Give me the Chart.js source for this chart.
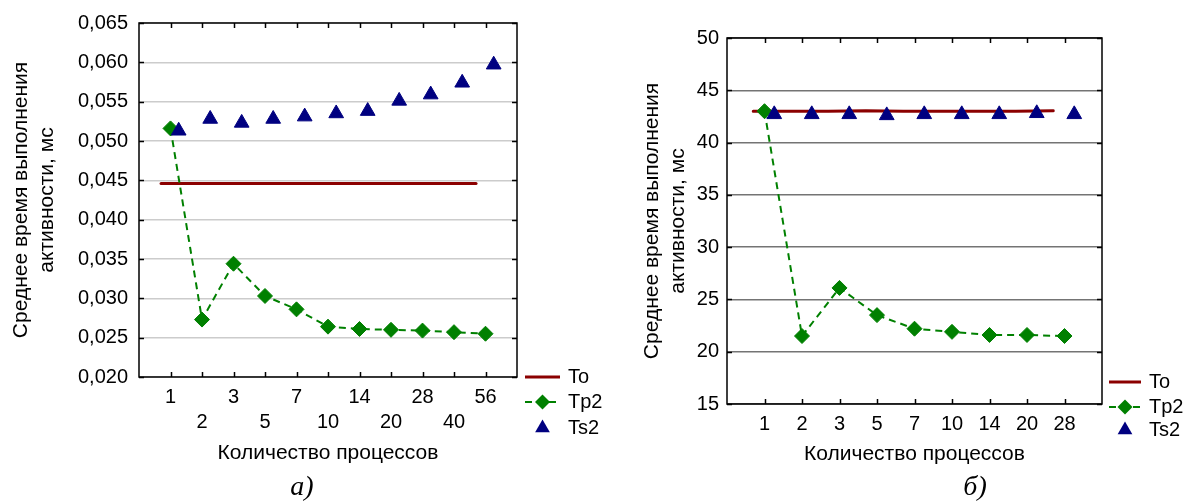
<!DOCTYPE html>
<html lang="ru">
<head>
    <meta charset="UTF-8">
    <title>Среднее время выполнения активности</title>
    <script src="https://cdn.jsdelivr.net/npm/chart.js"></script>
    <style>
        body {
            margin: 0;
            width: 1188px;
            height: 504px;
            position: relative;
            overflow: hidden;
            background: #fff;
        }
        .box {
            position: absolute;
            top: 0;
            height: 504px;
        }
        #boxA { left: 0; width: 620px; }
        #boxB { left: 600px; width: 588px; }
        .caption {
            position: absolute;
            top: 470px;
            width: 60px;
            line-height: 32px;
            text-align: center;
            font-family: "Liberation Serif", "Times New Roman", serif;
            font-style: italic;
            font-size: 28px;
            color: #000;
        }
        #capA { left: 272px; }
        #capB { left: 945px; }
    </style>
</head>
<body>
    <div class="box" id="boxA"><canvas id="chartA" width="620" height="504"></canvas></div>
    <div class="box" id="boxB"><canvas id="chartB" width="588" height="504"></canvas></div>
    <div class="caption" id="capA">а)</div>
    <div class="caption" id="capB">б)</div>
    <script>
        // а) левый график
        const categoriesA = ['1', '2', '3', '5', '7', '10', '14', '20', '28', '40', '56'];
        const toA  = [0.0446, 0.0446, 0.0446, 0.0446, 0.0446, 0.0446, 0.0446, 0.0446, 0.0446, 0.0446, 0.0446];
        const tp2A = [0.0516, 0.0273, 0.0344, 0.0303, 0.0286, 0.0264, 0.0261, 0.0260, 0.0259, 0.0257, 0.0255];
        const ts2A = [0.0513, 0.0528, 0.0523, 0.0528, 0.0531, 0.0535, 0.0538, 0.0551, 0.0559, 0.0574, 0.0597];
        const yTicksA = [0.020, 0.025, 0.030, 0.035, 0.040, 0.045, 0.050, 0.055, 0.060, 0.065];

        // б) правый график
        const categoriesB = ['1', '2', '3', '5', '7', '10', '14', '20', '28'];
        const toB  = [43.0, 43.0, 43.0, 43.05, 43.0, 43.0, 43.0, 43.0, 43.05];
        const tp2B = [43.0, 21.5, 26.1, 23.5, 22.2, 21.9, 21.6, 21.6, 21.5];
        const ts2B = [42.7, 42.7, 42.7, 42.6, 42.7, 42.7, 42.7, 42.8, 42.7];
        const yTicksB = [15, 20, 25, 30, 35, 40, 45, 50];

        const xTitle = 'Количество процессов';
        const yTitle = ['Среднее время выполнения', 'активности, мс'];

        const TO_SHIFT = -0.3;
        const TS_SHIFT = 0.26;

        Chart.defaults.font.family = 'Arial, "Liberation Sans", sans-serif';
        Chart.defaults.color = '#000';

        // рамка, внутренние засечки и легенда
        const framePlugin = {
            id: 'frame',
            afterDraw(chart, args, opts) {
                const ctx = chart.ctx;
                const a = chart.chartArea;
                const sx = chart.scales.x, sy = chart.scales.y;
                ctx.save();
                ctx.strokeStyle = '#000';
                ctx.lineWidth = 1.5;
                ctx.beginPath();
                sx.ticks.forEach(t => {
                    const px = Math.round(sx.getPixelForValue(t.value)) + 0.5;
                    ctx.moveTo(px, a.bottom); ctx.lineTo(px, a.bottom - 5);
                    ctx.moveTo(px, a.top); ctx.lineTo(px, a.top + 5);
                });
                sy.ticks.forEach(t => {
                    const py = Math.round(sy.getPixelForValue(t.value)) + 0.5;
                    ctx.moveTo(a.left, py); ctx.lineTo(a.left + 5, py);
                    ctx.moveTo(a.right, py); ctx.lineTo(a.right - 5, py);
                });
                ctx.stroke();
                ctx.strokeRect(a.left, a.top, a.right - a.left, a.bottom - a.top);

                // легенда
                const ds = chart.data.datasets;
                const x0 = opts.x0, x1 = opts.x1, xm = (x0 + x1) / 2;
                ctx.font = '20px Arial, "Liberation Sans", sans-serif';
                ctx.textBaseline = 'middle';
                ctx.fillStyle = '#000';
                ds.forEach((d, i) => {
                    const y = opts.rows[i];
                    if (d.showLine !== false) {
                        ctx.save();
                        ctx.strokeStyle = d.borderColor;
                        ctx.lineWidth = d.borderWidth;
                        ctx.setLineDash(d.borderDash || []);
                        ctx.beginPath();
                        ctx.moveTo(x0, y); ctx.lineTo(x1, y);
                        ctx.stroke();
                        ctx.restore();
                    }
                    if (d.pointRadius > 0) {
                        const r = d.pointRadius;
                        ctx.fillStyle = d.pointBackgroundColor;
                        ctx.beginPath();
                        if (d.pointStyle === 'rectRot') {
                            ctx.moveTo(xm, y - r); ctx.lineTo(xm + r, y);
                            ctx.lineTo(xm, y + r); ctx.lineTo(xm - r, y);
                        } else {
                            const h = r * Math.sqrt(3) / 2;
                            ctx.moveTo(xm, y - r); ctx.lineTo(xm + h, y + r / 2);
                            ctx.lineTo(xm - h, y + r / 2);
                        }
                        ctx.closePath();
                        ctx.fill();
                    }
                    ctx.fillStyle = '#000';
                    ctx.fillText(d.label, x1 + 8, y);
                });
                ctx.restore();
            }
        };

        function makeChart(id, cfg) {
            return new Chart(document.getElementById(id), {
                type: 'line',
                data: {
                    datasets: [
                        {
                            label: 'To',
                            data: cfg.to.map((v, i) => ({ x: i + 1 + TO_SHIFT, y: v })),
                            borderColor: '#8b0000',
                            borderWidth: 3,
                            borderCapStyle: 'round',
                            pointRadius: 0,
                            fill: false,
                            tension: 0,
                            order: 3
                        },
                        {
                            label: 'Tp2',
                            data: cfg.tp2.map((v, i) => ({ x: i + 1, y: v })),
                            borderColor: '#008000',
                            borderWidth: 2,
                            borderDash: [7, 5],
                            pointStyle: 'rectRot',
                            pointRadius: 7.5,
                            pointBackgroundColor: '#008000',
                            pointBorderColor: '#008000',
                            pointBorderWidth: 1,
                            fill: false,
                            tension: 0,
                            order: 2
                        },
                        {
                            label: 'Ts2',
                            data: cfg.ts2.map((v, i) => ({ x: i + 1 + TS_SHIFT, y: v })),
                            showLine: false,
                            borderColor: '#000080',
                            pointStyle: 'triangle',
                            pointRadius: 8.5,
                            pointBackgroundColor: '#000080',
                            pointBorderColor: '#000080',
                            pointBorderWidth: 1,
                            order: 1
                        }
                    ]
                },
                options: {
                    responsive: false,
                    animation: false,
                    layout: { padding: cfg.pad },
                    plugins: {
                        legend: { display: false },
                        tooltip: { enabled: false },
                        frame: cfg.legend
                    },
                    scales: {
                        x: {
                            type: 'linear',
                            min: 0,
                            max: cfg.cats.length + 1,
                            afterBuildTicks: s => { s.ticks = cfg.cats.map((c, i) => ({ value: i + 1 })); },
                            afterFit: s => { s.height = cfg.xh; },
                            grid: { display: false, drawTicks: false },
                            border: { display: false },
                            ticks: {
                                autoSkip: false,
                                maxRotation: 0,
                                padding: 7.5,
                                font: { size: 20, lineHeight: 1.25 },
                                callback: (v, i) => (cfg.twoRows && i % 2 ? ['', cfg.cats[i]] : cfg.cats[i])
                            },
                            title: {
                                display: true,
                                text: xTitle,
                                font: { size: 21, lineHeight: 1.2 },
                                padding: 0
                            }
                        },
                        y: {
                            min: cfg.yTicks[0],
                            max: cfg.yTicks[cfg.yTicks.length - 1],
                            afterBuildTicks: s => { s.ticks = cfg.yTicks.map(v => ({ value: v })); },
                            afterFit: s => { s.width = cfg.yw; },
                            grid: { color: cfg.gridColor, lineWidth: 1.5, drawTicks: false },
                            border: { display: false },
                            ticks: {
                                padding: cfg.yPad,
                                font: { size: 20 },
                                callback: v => cfg.fmt(v)
                            },
                            title: {
                                display: true,
                                text: yTitle,
                                font: { size: 21, lineHeight: 1.24 },
                                padding: { top: cfg.titlePad, bottom: 0 }
                            }
                        }
                    }
                },
                plugins: [framePlugin]
            });
        }

        makeChart('chartA', {
            cats: categoriesA, to: toA, tp2: tp2A, ts2: ts2A, yTicks: yTicksA,
            fmt: v => v.toFixed(3).replace('.', ','),
            twoRows: true,
            pad: { top: 21, right: 103, bottom: 38.4, left: 0 },
            xh: 88.6, yw: 139, yPad: 11, titlePad: 8,
            gridColor: '#cccccc',
            legend: { x0: 525, x1: 560, rows: [377, 402, 428] }
        });

        makeChart('chartB', {
            cats: categoriesB, to: toB, tp2: tp2B, ts2: ts2B, yTicks: yTicksB,
            fmt: v => String(v),
            twoRows: false,
            pad: { top: 38, right: 86, bottom: 37.4, left: 0 },
            xh: 62.6, yw: 127, yPad: 8, titlePad: 39,
            gridColor: '#747474',
            legend: { x0: 509, x1: 541, rows: [382, 407, 430] }
        });
    </script>
</body>
</html>
